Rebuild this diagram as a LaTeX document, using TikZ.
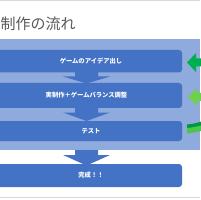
\documentclass[tikz,border=0pt]{standalone}
\usepackage{fontspec}
\newfontfamily\cjk{Noto Sans CJK JP}
\definecolor{boxblue}{HTML}{4472C4}
\definecolor{bgblue}{HTML}{8FAADC}
\definecolor{dgreen}{HTML}{00B050}
\definecolor{lgreen}{HTML}{6FD04A}
\definecolor{titlegray}{HTML}{595959}
\definecolor{rulegray}{HTML}{D9D9D9}
\begin{document}
\begin{tikzpicture}[x=1pt,y=-1pt,
  stepbox/.style={fill=boxblue,rounded corners=3pt},
  steptext/.style={text=white,font=\cjk\bfseries\fontsize{6.3}{7}\selectfont,inner sep=0pt},
  downarrow/.style={fill=boxblue},
  ]
\useasboundingbox (0,0) rectangle (200,200);
\fill[white] (0,0) rectangle (200,200);
\draw[rulegray,line width=0.8pt] (0,0.5) -- (200,0.5);
\draw[rulegray,line width=0.8pt] (0,197.5) -- (200,197.5);
\node[anchor=west,inner sep=0pt,text=titlegray,font=\cjk\fontsize{15}{17}\selectfont] (title) at (0.5,24) {制作の流れ};
% arrow 3 (behind background)
\fill[downarrow] (75,141) -- (98,141) -- (98,155) -- (110,155) -- (86.5,165.5) -- (63,155) -- (75,155) -- cycle;
% background panel
\fill[bgblue] (0,39) rectangle (200,150);
% down arrows
\fill[downarrow] (75,72) -- (98,72) -- (98,76.5) -- (110,76.5) -- (86.5,83.5) -- (63,76.5) -- (75,76.5) -- cycle;
\fill[downarrow] (75,108) -- (98,108) -- (98,112.5) -- (110,112.5) -- (86.5,121) -- (63,112.5) -- (75,112.5) -- cycle;
% boxes
\fill[stepbox] (-5,50) rectangle (182,72.5);
\fill[stepbox] (-5,83) rectangle (182,108);
\fill[stepbox] (-5,121) rectangle (182,141);
\fill[stepbox] (-5,164) rectangle (182,187);
\node[steptext] (s1) at (91,61) {ゲームのアイデア出し};
\node[steptext] (s2) at (86.5,95.5) {実制作＋ゲームバランス調整};
\node[steptext] (s3) at (91,131) {テスト};
\node[steptext] (s4) at (91,175.5) {完成！！};
% green arrows
\fill[dgreen] (187,62.5) -- (196,53) -- (196,58.5) -- (202,58.5) -- (202,66.5) -- (196,66.5) -- (196,72) -- cycle;
\fill[lgreen] (188,97) -- (197,88) -- (197,93) -- (202,93) -- (202,101) -- (197,101) -- (197,106) -- cycle;
\fill[dgreen!85!black] (187,124.5) .. controls (193,124) and (197,123) .. (201,121.5) -- (201,127) .. controls (197,128) and (193,129) .. (187,129.5) -- cycle;
\fill[lgreen!70!dgreen] (187,128) .. controls (193,127.5) and (197,126.5) .. (201,125.5) -- (201,131) .. controls (197,132) and (193,133) .. (187,133.5) -- cycle;
\end{tikzpicture}
\end{document}
